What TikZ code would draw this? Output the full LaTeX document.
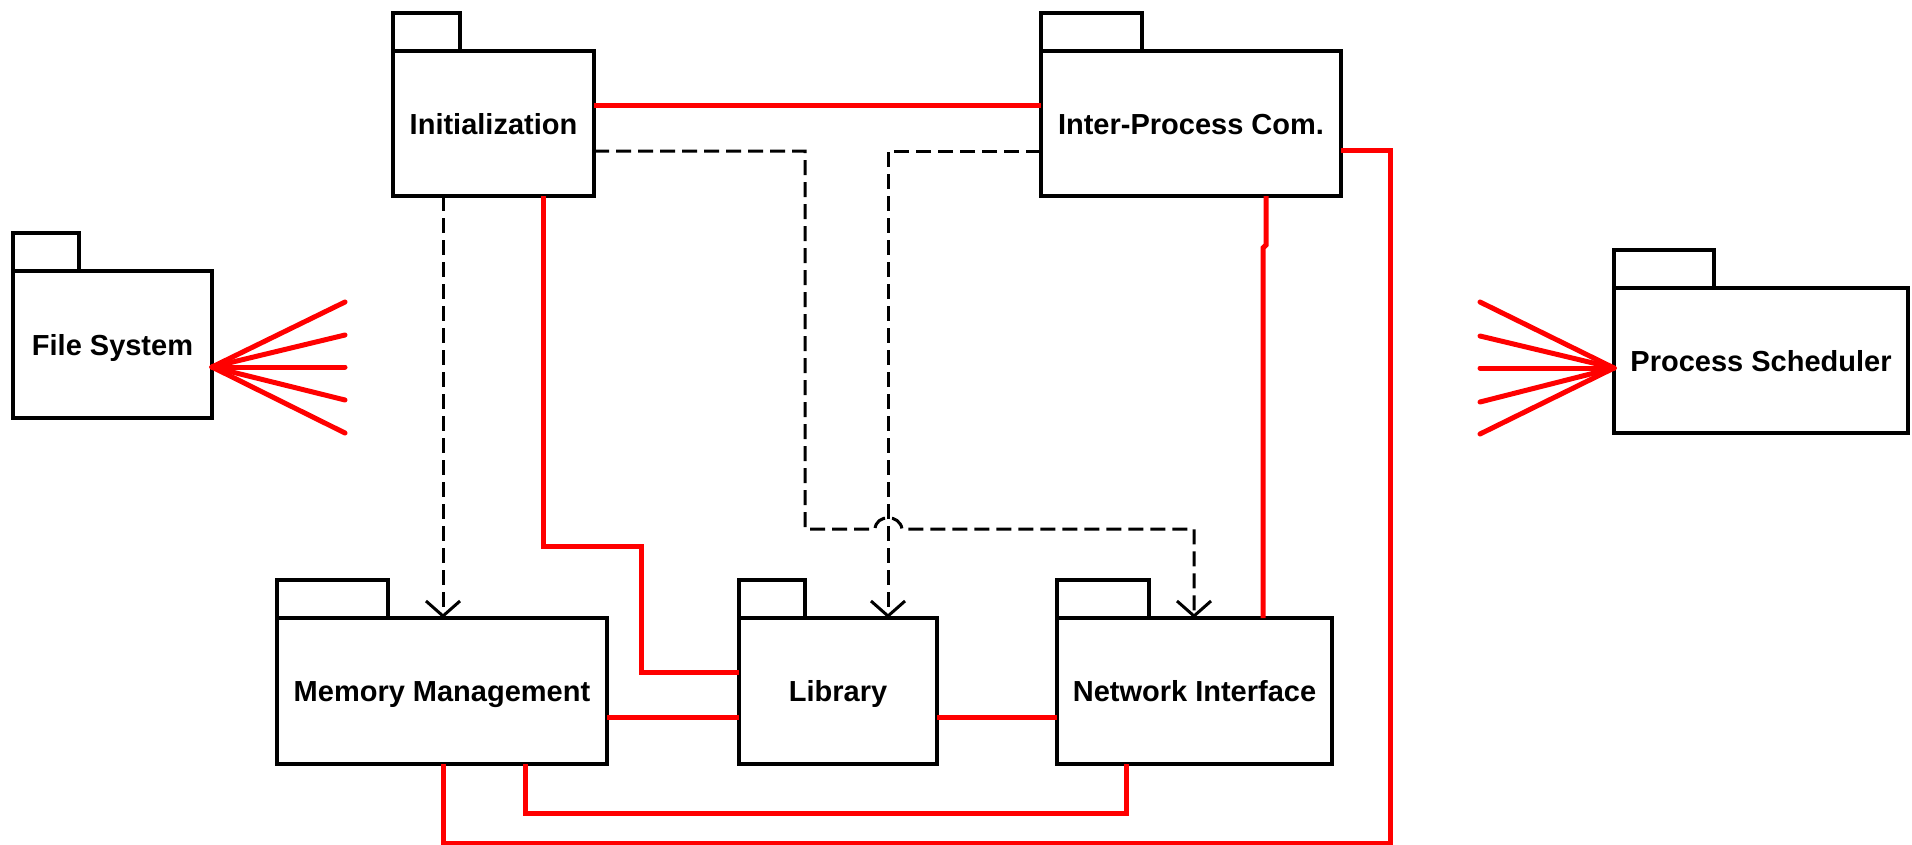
\documentclass[tikz,border=0pt]{standalone}
\usepackage{fontspec}
\setmainfont{Liberation Sans}
\usetikzlibrary{arrows.meta}
\begin{document}
\begin{tikzpicture}[x=1pt,y=-1pt,
  pkg/.style={draw=black, fill=white, line width=4pt, inner sep=0pt, outer sep=0pt,
    font=\fontsize{29}{34}\selectfont\bfseries, align=center,
    text height=21pt, text depth=0pt},
  pkgtab/.style={draw=black, fill=white, line width=4pt, inner sep=0pt, outer sep=0pt,
    minimum height=38pt, anchor=south west},
  link/.style={red, line width=5pt},
  dep/.style={black, line width=3pt, dash pattern=on 15pt off 7pt,
    -{Straight Barb[length=15pt,width=34pt]}},
  fan/.style={red, line width=5pt, line cap=round}]
\fill[white] (0,0) rectangle (1912,844);
\useasboundingbox (0,0) rectangle (1912,844);

% packages
\node[pkg, minimum width=201pt, minimum height=145pt] (init) at (493.5,123.5) {Initialization};
\node[pkgtab, minimum width=67pt] (initTab) at (init.north west) {};
\node[pkg, minimum width=300pt, minimum height=145pt] (ipc) at (1191,123.5) {Inter-Process Com.};
\node[pkgtab, minimum width=101pt] (ipcTab) at (ipc.north west) {};
\node[pkg, minimum width=199pt, minimum height=147pt] (fs) at (112.5,344.5) {File System};
\node[pkgtab, minimum width=66pt] (fsTab) at (fs.north west) {};
\node[pkg, minimum width=294pt, minimum height=145pt] (ps) at (1761,360.5) {Process Scheduler};
\node[pkgtab, minimum width=100pt] (psTab) at (ps.north west) {};
\node[pkg, minimum width=330pt, minimum height=146pt] (mm) at (442,691) {Memory Management};
\node[pkgtab, minimum width=111pt] (mmTab) at (mm.north west) {};
\node[pkg, minimum width=198pt, minimum height=146pt] (lib) at (838,691) {Library};
\node[pkgtab, minimum width=66pt] (libTab) at (lib.north west) {};
\node[pkg, minimum width=275pt, minimum height=146pt] (ni) at (1194.5,691) {Network Interface};
\node[pkgtab, minimum width=92pt] (niTab) at (ni.north west) {};

% red associations
\draw[link] (init.east |- 0,105) -- (ipc.west |- 0,105);
\draw[link] (ipc.east |- 0,150) -- (1390,150) -- (1390,843) -- (443,843) -- (443,0 |- mm.south);
\draw[link] (1266,0 |- ipc.south) -- (1266,245) -- (1263,248) -- (1263,0 |- ni.north);
\draw[link] (543,0 |- init.south) -- (543,546) -- (641,546) -- (641,672) -- (lib.west |- 0,672);
\draw[link] (mm.east |- 0,717) -- (lib.west |- 0,717);
\draw[link] (lib.east |- 0,717) -- (ni.west |- 0,717);
\draw[link] (525,0 |- mm.south) -- (525,813) -- (1126,813) -- (1126,0 |- ni.south);

% fans
\coordinate (fsHub) at (fs.east |- 0,367);
\foreach \yy [count=\i] in {302,335,367,400,433} {
  \coordinate (fsEnd\i) at (345,\yy);
  \draw[fan] (fsHub) -- (fsEnd\i);
}
\coordinate (psHub) at (ps.west |- 0,368);
\foreach \yy [count=\i] in {302,336,368,402,434} {
  \coordinate (psEnd\i) at (1480,\yy);
  \draw[fan] (psHub) -- (psEnd\i);
}

% dependencies
\draw[dep] (443,0 |- init.south) -- (443,0 |- mm.north);
\draw[dep] (init.east |- 0,151) -- (805,151) -- (805,529) -- (875,529)
  .. controls (876,514) and (900,514) .. (902,529) -- (1194,529) -- (1194,0 |- ni.north);
\draw[dep] (ipc.west |- 0,151) -- (888,151) -- (888,0 |- lib.north);
\end{tikzpicture}
\end{document}
